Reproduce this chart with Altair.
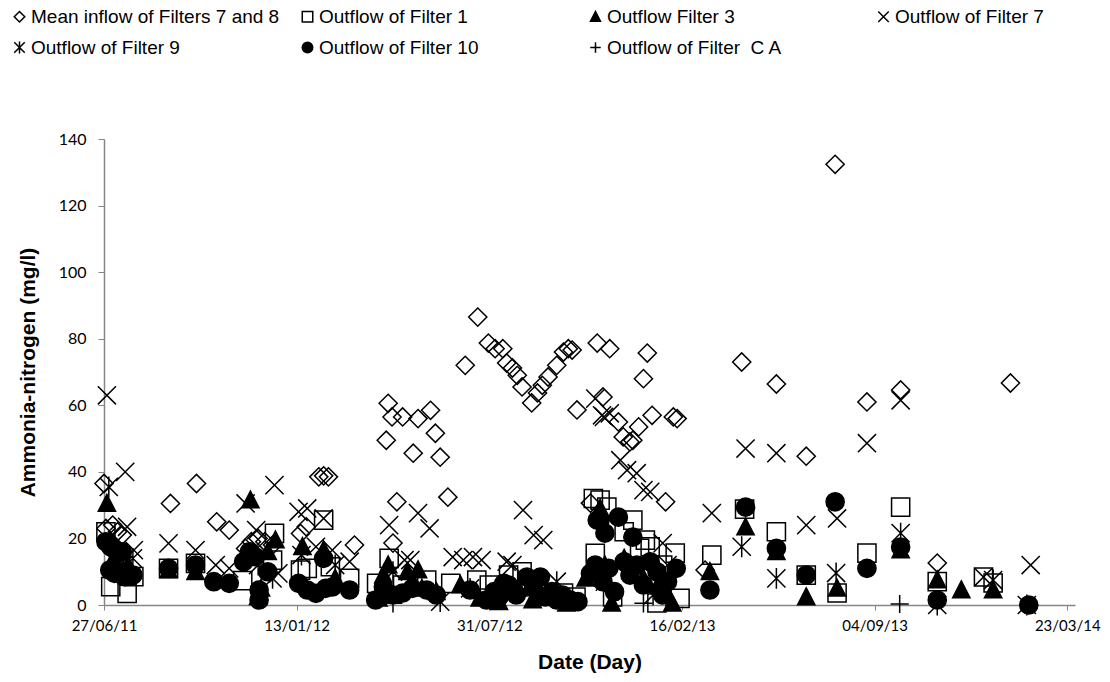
import altair as alt
import pandas as pd

# ---------------- data (days after 27/06/2011, ammonia-nitrogen mg/l) ----------------
series_names = [
    "Mean inflow of Filters 7 and 8",
    "Outflow of Filter 1",
    "Outflow Filter 3",
    "Outflow of Filter 7",
    "Outflow of Filter 9",
    "Outflow of Filter 10",
    "Outflow of Filter\u00a0 C A",
]

inflow_days = [0, 2, 9, 14, 19, 69, 96, 117, 130, 147, 153, 160, 167, 175, 204, 210, 223, 228, 233,
               260, 293, 295, 299, 300, 304, 310, 321, 326, 339, 344, 349, 357, 375, 388, 399, 406,
               414, 418, 424, 429, 434, 444, 450, 455, 461, 470, 477, 482, 486, 491, 505, 512, 518,
               525, 534, 539, 546, 549, 555, 560, 564, 569, 583, 591, 595, 624, 662, 698, 729, 759,
               792, 827, 865, 941]
inflow_vals = [36.5, 23, 24, 22, 21, 30.5, 36.5, 25, 22.5, 17, 19, 20, 19, 18, 21.5, 23.5, 38.5, 38.8, 38.5,
               18, 49.5, 60.6, 56.5, 18.6, 31, 56.5, 45.6, 56, 58.5, 51.6, 44.4, 32.4, 72, 86.5, 78.7, 77,
               77, 72.7, 71.2, 69, 65.5, 60.7, 63.7, 66, 68.5, 72, 76, 77, 76.6, 58.6, 30.6, 78.7, 62.5,
               77, 55, 50.5, 49, 49.5, 53.5, 68, 75.7, 57, 31, 56.5, 56, 10.5, 73, 66.4, 44.7, 132.4,
               61, 64.6, 12.6, 66.7]

f1_days = [2, 7, 24, 31, 67, 95, 144, 175, 177, 204, 211, 228, 235, 255, 283, 296, 310, 335, 360, 387,
           400, 420, 434, 450, 477, 490, 508, 510, 515, 522, 528, 540, 549, 556, 562, 567, 574, 580, 593,
           598, 631, 665, 698, 729, 761, 792, 827, 865, 913, 923]
f1_vals = [22, 5.5, 3.5, 8.5, 11, 12.5, 7.3, 13.5, 21.5, 10.5, 11, 25.5, 11.5, 8, 6.5, 14, 6, 7.5, 6.5, 7.5,
           6, 9, 10, 7, 3.6, 2.4, 32, 15.5, 31.5, 29.4, 2.4, 22, 25.5, 17, 19.5, 17.5, 0.6, 12, 15.6,
           2, 15, 28.8, 22, 9, 3.6, 15.6, 29.4, 7, 8.4, 6.6]

f3_days = [3, 10, 25, 67, 95, 152, 160, 163, 170, 178, 206, 228, 240, 285, 290, 295, 300, 315, 326, 330,
           345, 370, 390, 410, 430, 445, 460, 480, 500, 515, 520, 527, 540, 560, 575, 590, 629, 666,
           698, 729, 761, 827, 865, 890, 923]
f3_vals = [30.5, 14, 12, 10.5, 10, 31.5, 2.5, 5, 16, 19.5, 17.5, 16.5, 8, 2, 9, 12, 3, 10, 10.5, 5,
           4, 6, 2, 1, 5, 1.5, 3, 0.5, 8, 29, 12, 0.5, 14, 8, 6, 0.5, 10, 23.4,
           16, 2.4, 5, 16.5, 7.5, 4.5, 4.5]

f7_days = [3, 22, 24, 31, 67, 95, 116, 130, 147, 158, 177, 181, 202, 211, 220, 228, 237, 255, 296, 312,
           318, 326, 338, 362, 373, 383, 392, 418, 424, 435, 446, 456, 510, 517, 519, 525, 536, 543,
           553, 560, 567, 580, 585, 631, 666, 698, 729, 761, 792, 827, 913, 962]
f7_vals = [63, 40, 23.5, 16.5, 18.5, 16.5, 12, 11, 30.5, 22.5, 36, 9.5, 28, 29, 17.5, 26, 16.5, 13, 24, 13.5,
           13.5, 27.6, 23, 14.4, 13.5, 14.4, 13.5, 13, 12, 28.5, 21, 19.5, 62, 57, 56.5, 57.6, 43.5, 40.5,
           39.6, 34.5, 34, 18.6, 12, 27.6, 47, 45.6, 24, 26, 48.6, 61.5, 8.4, 12]

f9_days = [5, 12, 20, 30, 160, 175, 205, 240, 300, 349, 380, 470, 520, 570, 662, 698, 760, 827, 865, 923, 958]
f9_vals = [35.5, 15, 12, 14, 12, 8, 15, 12, 10, 1, 5, 7, 7, 3, 17.5, 8, 9.6, 21.6, 0, 7.5, 0]

f10_days = [2, 7, 12, 19, 6, 11, 21, 30, 67, 95, 114, 130, 145, 151, 157, 161, 161, 170, 202, 211, 220,
            228, 230, 237, 255, 282, 290, 300, 310, 320, 335, 345, 380, 397, 405, 410, 415, 420, 428,
            439, 446, 453, 458, 465, 470, 476, 484, 492, 505, 512, 515, 520, 534, 549, 510, 518, 524,
            530, 540, 546, 553, 560, 567, 574, 580, 585, 594, 629, 666, 698, 729, 759, 792, 827, 865, 960]
f10_vals = [19, 17.5, 16.5, 16, 10.5, 9.5, 8.5, 9, 11, 12, 7, 6.5, 13, 16, 14.5, 4.5, 1.5, 10, 6.5, 4.5, 3.5,
            14, 5, 5.4, 4.5, 1.5, 5.4, 3, 3.6, 5, 4.5, 3, 4.5, 1.5, 4, 2.4, 6.5, 6, 3,
            8.4, 5, 8.4, 2.4, 4, 1.5, 3, 1.5, 1, 9.5, 25.5, 25.5, 21.6, 26.4, 20.4, 12, 7, 11,
            4, 13, 9, 12, 6, 13, 10, 3, 7, 11, 4.5, 29.4, 17, 9, 31, 11, 17.4, 1.5, 0]

ca_days = [300, 560, 826]
ca_vals = [0.5, 0.5, 0.3]

tick_dates = ["2011-06-27", "2012-01-13", "2012-07-31", "2013-02-16", "2013-09-04", "2014-03-23"]

# ---------------- build table ----------------
start = pd.Timestamp("2011-06-27")
all_days = [inflow_days, f1_days, f3_days, f7_days, f9_days, f10_days, ca_days]
all_vals = [inflow_vals, f1_vals, f3_vals, f7_vals, f9_vals, f10_vals, ca_vals]
rows = []
for name, ds, vs in zip(series_names, all_days, all_vals):
    for d, v in zip(ds, vs):
        rows.append({"series": name,
                     "date": (start + pd.Timedelta(days=d)).strftime("%Y-%m-%dT00:00:00"),
                     "value": v})
df = pd.DataFrame(rows)

shapes = [
    "diamond",
    "square",
    "M0,-1L0.95,0.85L-0.95,0.85Z",
    "M-1,-1L1,1M-1,1L1,-1",
    "M-1,-1L1,1M-1,1L1,-1M0,-1.15L0,1.15",
    "circle",
    "M-1,0L1,0M0,-1L0,1",
]
fills = ["transparent", "transparent", "black", "transparent", "transparent", "black", "transparent"]
strokes = ["black"] * 7


def dt(s):
    y, m, d = s.split("-")
    return alt.DateTime(year=int(y), month=int(m), date=int(d))


axis_gray = "#868686"

chart = alt.Chart(df).mark_point(size=330, strokeWidth=1.5, opacity=1, fillOpacity=1).encode(
    x=alt.X("date:T",
            scale=alt.Scale(domain=[dt("2011-06-27"), dt("2014-03-31")]),
            axis=alt.Axis(values=[dt(s) for s in tick_dates], format="%d/%m/%y",
                          title="Date (Day)", grid=False, tickSize=5, labelPadding=8,
                          labelFlush=False, labelOverlap=False,
                          labelFont="Lato", labelFontSize=15, labelColor="black",
                          domainColor=axis_gray, tickColor=axis_gray, domainWidth=1.5,
                          titleFont="Liberation Sans", titleFontSize=21, titleFontWeight="bold",
                          titleColor="black", titleY=57, titleBaseline="middle")),
    y=alt.Y("value:Q",
            scale=alt.Scale(domain=[0, 140], nice=False),
            axis=alt.Axis(values=list(range(0, 141, 20)), title="Ammonia-nitrogen (mg/l)",
                          grid=False, tickSize=6, labelPadding=12, labelFlush=False,
                          labelFont="Lato", labelFontSize=16, labelColor="black",
                          domainColor=axis_gray, tickColor=axis_gray, domainWidth=1.5,
                          titleFont="Liberation Sans", titleFontSize=21, titleFontWeight="bold",
                          titleColor="black", titleX=-76, titleY=233, titleAngle=-90,
                          titleAlign="center", titleBaseline="middle")),
    shape=alt.Shape("series:N", scale=alt.Scale(domain=series_names, range=shapes),
                    legend=alt.Legend(title=None)),
    fill=alt.Fill("series:N", scale=alt.Scale(domain=series_names, range=fills),
                  legend=alt.Legend(title=None)),
    stroke=alt.Stroke("series:N", scale=alt.Scale(domain=series_names, range=strokes),
                      legend=alt.Legend(title=None)),
).properties(
    width=971,
    height=466,
    autosize=alt.AutoSizeParams(type="none"),
    padding={"left": 104, "top": 139, "right": 35, "bottom": 77},
).configure_view(
    stroke=None
).configure_legend(
    orient="none",
    direction="horizontal",
    legendX=-94,
    legendY=-132,
    columns=4,
    gridAlign="all",
    columnPadding=18,
    rowPadding=11,
    symbolSize=110,
    symbolStrokeWidth=1.5,
    labelFont="Liberation Sans",
    labelFontSize=19,
    labelColor="black",
    labelLimit=500,
    labelOffset=2,
    padding=0,
)

chart.save("out.html", embed_options={"renderer": "svg", "actions": False})
